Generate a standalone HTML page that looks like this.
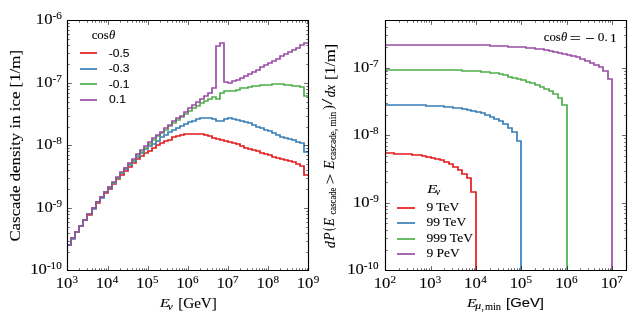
<!DOCTYPE html>
<html><head><meta charset="utf-8"><style>
html,body{margin:0;padding:0;background:#fff;}
body{width:640px;height:320px;overflow:hidden;}
svg{display:block;will-change:transform;}
</style></head><body>
<svg width="640" height="320" viewBox="0 0 640 320">
<rect width="640" height="320" fill="#fff"/>
<defs>
<clipPath id="cl"><rect x="67.4" y="20.4" width="240.99999999999997" height="249.99999999999997"/></clipPath>
<clipPath id="cr"><rect x="385.2" y="20.4" width="241.00000000000006" height="249.99999999999997"/></clipPath>
</defs>
<g clip-path="url(#cl)" fill="none" stroke-width="1.7" stroke-linejoin="miter" stroke-linecap="butt">
<path d="M64.40,245.00 H71.00 V238.00 H75.00 V232.00 H79.00 V226.00 H83.00 V220.00 H87.00 V215.00 H92.00 V208.00 H96.00 V203.00 H100.00 V197.00 H104.00 V193.00 H108.00 V189.00 H112.00 V184.00 H116.00 V179.00 H120.00 V175.00 H124.00 V171.00 H128.00 V167.00 H132.00 V163.00 H136.00 V159.00 H140.00 V156.00 H144.00 V153.00 H148.00 V151.00 H152.00 V148.00 H156.00 V145.00 H160.00 V143.00 H164.00 V141.00 H168.00 V140.00 H172.00 V137.00 H176.00 V136.00 H180.00 V135.00 H184.00 V134.00 H188.00 V134.00 H192.00 V134.00 H196.00 V134.00 H200.00 V134.00 H204.00 V135.00 H208.00 V136.00 H212.00 V138.00 H216.00 V139.00 H220.00 V140.00 H224.00 V141.00 H228.00 V142.00 H232.00 V143.00 H236.00 V144.00 H240.00 V146.00 H244.00 V148.00 H248.00 V149.00 H252.00 V150.00 H256.00 V151.00 H260.00 V153.00 H264.00 V154.00 H268.00 V155.00 H272.00 V157.00 H276.00 V158.00 H280.00 V159.00 H284.00 V160.00 H288.00 V161.00 H292.00 V162.00 H296.00 V164.00 H300.00 V166.00 H304.00 V175.00 H311.40" stroke="#e41a1c"/>
<path d="M64.40,245.00 H71.00 V239.00 H75.00 V232.00 H79.00 V226.00 H83.00 V220.00 H87.00 V214.00 H92.00 V209.00 H96.00 V202.00 H100.00 V198.00 H104.00 V192.00 H108.00 V188.00 H112.00 V183.00 H116.00 V178.00 H120.00 V173.00 H124.00 V169.00 H128.00 V165.00 H132.00 V161.00 H136.00 V157.00 H140.00 V153.00 H144.00 V149.00 H148.00 V146.00 H152.00 V144.00 H156.00 V141.00 H160.00 V137.00 H164.00 V135.00 H168.00 V132.00 H172.00 V130.00 H176.00 V128.00 H180.00 V126.00 H184.00 V124.00 H188.00 V122.00 H192.00 V121.00 H196.00 V119.00 H200.00 V118.00 H204.00 V118.00 H208.00 V118.00 H212.00 V119.00 H216.00 V121.00 H220.00 V121.00 H224.00 V119.00 H228.00 V118.00 H232.00 V119.00 H236.00 V120.00 H240.00 V121.00 H244.00 V122.00 H248.00 V123.00 H252.00 V125.00 H256.00 V127.00 H260.00 V128.00 H264.00 V130.00 H268.00 V131.00 H272.00 V133.00 H276.00 V135.00 H280.00 V137.00 H284.00 V138.00 H288.00 V139.00 H292.00 V140.00 H296.00 V142.00 H300.00 V143.00 H304.00 V152.00 H311.40" stroke="#377eb8"/>
<path d="M64.40,245.00 H71.00 V238.00 H75.00 V232.00 H79.00 V226.00 H83.00 V220.00 H87.00 V214.00 H92.00 V208.00 H96.00 V202.00 H100.00 V197.00 H104.00 V192.00 H108.00 V187.00 H112.00 V183.00 H116.00 V178.00 H120.00 V173.00 H124.00 V168.00 H128.00 V164.00 H132.00 V160.00 H136.00 V155.00 H140.00 V152.00 H144.00 V148.00 H148.00 V144.00 H152.00 V140.00 H156.00 V136.00 H160.00 V133.00 H164.00 V130.00 H168.00 V126.00 H172.00 V123.00 H176.00 V120.00 H180.00 V117.00 H184.00 V114.00 H188.00 V111.00 H192.00 V108.00 H196.00 V106.00 H200.00 V103.00 H204.00 V101.00 H208.00 V99.00 H212.00 V97.00 H216.00 V99.00 H220.00 V93.00 H224.00 V91.00 H228.00 V91.00 H232.00 V91.00 H236.00 V90.00 H240.00 V88.00 H244.00 V88.00 H248.00 V87.00 H252.00 V86.00 H256.00 V86.00 H260.00 V85.00 H264.00 V85.00 H268.00 V85.00 H272.00 V84.00 H276.00 V84.00 H280.00 V84.00 H284.00 V85.00 H288.00 V85.00 H292.00 V86.00 H296.00 V86.00 H300.00 V87.00 H304.00 V96.00 H311.40" stroke="#4daf4a"/>
<path d="M64.40,245.00 H71.00 V238.00 H75.00 V232.00 H79.00 V226.00 H83.00 V220.00 H87.00 V214.00 H92.00 V208.00 H96.00 V202.00 H100.00 V197.00 H104.00 V192.00 H108.00 V187.00 H112.00 V182.00 H116.00 V177.00 H120.00 V172.00 H124.00 V168.00 H128.00 V163.00 H132.00 V159.00 H136.00 V154.00 H140.00 V150.00 H144.00 V146.00 H148.00 V142.00 H152.00 V138.00 H156.00 V135.00 H160.00 V132.00 H164.00 V128.00 H168.00 V125.00 H172.00 V121.00 H176.00 V118.00 H180.00 V116.00 H184.00 V112.00 H188.00 V108.00 H192.00 V105.00 H196.00 V102.00 H200.00 V99.00 H204.00 V96.00 H208.00 V93.00 H212.00 V88.00 H216.00 V46.00 H220.00 V43.00 H224.00 V82.00 H228.00 V83.00 H232.00 V81.00 H236.00 V80.00 H240.00 V78.00 H244.00 V76.00 H248.00 V74.00 H252.00 V72.00 H256.00 V70.00 H260.00 V67.00 H264.00 V65.00 H268.00 V63.00 H272.00 V61.00 H276.00 V59.00 H280.00 V56.00 H284.00 V54.00 H288.00 V52.00 H292.00 V50.00 H296.00 V48.00 H300.00 V45.00 H304.00 V43.00 H311.40" stroke="#984ea3"/>
</g>
<g clip-path="url(#cr)" fill="none" stroke-width="1.7" stroke-linejoin="miter" stroke-linecap="butt">
<path d="M382.20,153.00 H390.00 V153.00 H394.00 V154.00 H399.00 V154.00 H403.00 V154.00 H408.00 V154.00 H412.00 V155.00 H417.00 V155.00 H422.00 V156.00 H426.00 V157.00 H431.00 V158.00 H435.00 V159.00 H440.00 V160.00 H444.00 V162.00 H449.00 V164.00 H453.00 V167.00 H458.00 V170.00 H462.00 V174.00 H467.00 V178.00 H471.00 V192.00 H476.00 V275.40" stroke="#e41a1c"/>
<path d="M382.20,105.00 H390.00 V105.00 H394.00 V105.00 H399.00 V105.00 H403.00 V105.00 H408.00 V105.00 H412.00 V105.00 H417.00 V105.00 H422.00 V105.00 H426.00 V106.00 H431.00 V106.00 H435.00 V106.00 H440.00 V106.00 H444.00 V107.00 H449.00 V107.00 H453.00 V108.00 H458.00 V108.00 H462.00 V109.00 H467.00 V110.00 H471.00 V111.00 H476.00 V112.00 H481.00 V113.00 H485.00 V115.00 H490.00 V117.00 H494.00 V119.00 H499.00 V121.00 H503.00 V124.00 H508.00 V128.00 H512.00 V132.00 H517.00 V141.00 H521.00 V275.40" stroke="#377eb8"/>
<path d="M382.20,70.00 H390.00 V70.00 H394.00 V70.00 H399.00 V70.00 H403.00 V70.00 H408.00 V70.00 H412.00 V70.00 H417.00 V70.00 H422.00 V70.00 H426.00 V70.00 H431.00 V70.00 H435.00 V70.00 H440.00 V70.00 H444.00 V70.00 H449.00 V70.00 H453.00 V70.00 H458.00 V70.00 H462.00 V71.00 H467.00 V71.00 H471.00 V71.00 H476.00 V71.00 H481.00 V72.00 H485.00 V72.00 H490.00 V73.00 H494.00 V73.00 H499.00 V74.00 H503.00 V75.00 H508.00 V77.00 H512.00 V78.00 H517.00 V79.00 H521.00 V80.00 H526.00 V82.00 H530.00 V83.00 H535.00 V85.00 H540.00 V87.00 H544.00 V89.00 H549.00 V91.00 H553.00 V94.00 H558.00 V98.00 H562.00 V105.00 H567.00 V275.40" stroke="#4daf4a"/>
<path d="M382.20,45.00 H390.00 V45.00 H394.00 V45.00 H399.00 V45.00 H403.00 V45.00 H408.00 V45.00 H412.00 V45.00 H417.00 V45.00 H422.00 V45.00 H426.00 V45.00 H431.00 V45.00 H435.00 V45.00 H440.00 V45.00 H444.00 V45.00 H449.00 V45.00 H453.00 V45.00 H458.00 V45.00 H462.00 V45.00 H467.00 V45.00 H471.00 V45.00 H476.00 V45.00 H481.00 V45.00 H485.00 V45.00 H490.00 V46.00 H494.00 V46.00 H499.00 V46.00 H503.00 V46.00 H508.00 V47.00 H512.00 V47.00 H517.00 V47.00 H521.00 V47.00 H526.00 V48.00 H530.00 V48.00 H535.00 V49.00 H540.00 V49.00 H544.00 V50.00 H549.00 V51.00 H553.00 V52.00 H558.00 V53.00 H562.00 V54.00 H567.00 V55.00 H571.00 V56.00 H576.00 V57.00 H580.00 V59.00 H585.00 V61.00 H590.00 V63.00 H594.00 V65.00 H599.00 V67.00 H603.00 V71.00 H608.00 V79.00 H612.00 V275.40" stroke="#984ea3"/>
</g>
<g fill="none" stroke="#000">
<path d="M79.50,270.50V268.30 M79.50,20.50V22.70 M87.50,270.50V268.30 M87.50,20.50V22.70 M92.50,270.50V268.30 M92.50,20.50V22.70 M95.50,270.50V268.30 M95.50,20.50V22.70 M99.50,270.50V268.30 M99.50,20.50V22.70 M101.50,270.50V268.30 M101.50,20.50V22.70 M104.50,270.50V268.30 M104.50,20.50V22.70 M106.50,270.50V268.30 M106.50,20.50V22.70 M120.50,270.50V268.30 M120.50,20.50V22.70 M127.50,270.50V268.30 M127.50,20.50V22.70 M132.50,270.50V268.30 M132.50,20.50V22.70 M136.50,270.50V268.30 M136.50,20.50V22.70 M139.50,270.50V268.30 M139.50,20.50V22.70 M142.50,270.50V268.30 M142.50,20.50V22.70 M144.50,270.50V268.30 M144.50,20.50V22.70 M146.50,270.50V268.30 M146.50,20.50V22.70 M160.50,270.50V268.30 M160.50,20.50V22.70 M167.50,270.50V268.30 M167.50,20.50V22.70 M172.50,270.50V268.30 M172.50,20.50V22.70 M176.50,270.50V268.30 M176.50,20.50V22.70 M179.50,270.50V268.30 M179.50,20.50V22.70 M182.50,270.50V268.30 M182.50,20.50V22.70 M184.50,270.50V268.30 M184.50,20.50V22.70 M186.50,270.50V268.30 M186.50,20.50V22.70 M200.50,270.50V268.30 M200.50,20.50V22.70 M207.50,270.50V268.30 M207.50,20.50V22.70 M212.50,270.50V268.30 M212.50,20.50V22.70 M216.50,270.50V268.30 M216.50,20.50V22.70 M219.50,270.50V268.30 M219.50,20.50V22.70 M222.50,270.50V268.30 M222.50,20.50V22.70 M224.50,270.50V268.30 M224.50,20.50V22.70 M226.50,270.50V268.30 M226.50,20.50V22.70 M240.50,270.50V268.30 M240.50,20.50V22.70 M247.50,270.50V268.30 M247.50,20.50V22.70 M252.50,270.50V268.30 M252.50,20.50V22.70 M256.50,270.50V268.30 M256.50,20.50V22.70 M259.50,270.50V268.30 M259.50,20.50V22.70 M262.50,270.50V268.30 M262.50,20.50V22.70 M264.50,270.50V268.30 M264.50,20.50V22.70 M266.50,270.50V268.30 M266.50,20.50V22.70 M280.50,270.50V268.30 M280.50,20.50V22.70 M287.50,270.50V268.30 M287.50,20.50V22.70 M292.50,270.50V268.30 M292.50,20.50V22.70 M296.50,270.50V268.30 M296.50,20.50V22.70 M299.50,270.50V268.30 M299.50,20.50V22.70 M302.50,270.50V268.30 M302.50,20.50V22.70 M305.50,270.50V268.30 M305.50,20.50V22.70 M307.50,270.50V268.30 M307.50,20.50V22.70 M67.50,252.50H69.70 M308.50,252.50H306.30 M67.50,241.50H69.70 M308.50,241.50H306.30 M67.50,233.50H69.70 M308.50,233.50H306.30 M67.50,227.50H69.70 M308.50,227.50H306.30 M67.50,222.50H69.70 M308.50,222.50H306.30 M67.50,218.50H69.70 M308.50,218.50H306.30 M67.50,214.50H69.70 M308.50,214.50H306.30 M67.50,211.50H69.70 M308.50,211.50H306.30 M67.50,189.50H69.70 M308.50,189.50H306.30 M67.50,178.50H69.70 M308.50,178.50H306.30 M67.50,170.50H69.70 M308.50,170.50H306.30 M67.50,164.50H69.70 M308.50,164.50H306.30 M67.50,159.50H69.70 M308.50,159.50H306.30 M67.50,155.50H69.70 M308.50,155.50H306.30 M67.50,151.50H69.70 M308.50,151.50H306.30 M67.50,148.50H69.70 M308.50,148.50H306.30 M67.50,127.50H69.70 M308.50,127.50H306.30 M67.50,116.50H69.70 M308.50,116.50H306.30 M67.50,108.50H69.70 M308.50,108.50H306.30 M67.50,102.50H69.70 M308.50,102.50H306.30 M67.50,97.50H69.70 M308.50,97.50H306.30 M67.50,93.50H69.70 M308.50,93.50H306.30 M67.50,89.50H69.70 M308.50,89.50H306.30 M67.50,86.50H69.70 M308.50,86.50H306.30 M67.50,64.50H69.70 M308.50,64.50H306.30 M67.50,53.50H69.70 M308.50,53.50H306.30 M67.50,45.50H69.70 M308.50,45.50H306.30 M67.50,39.50H69.70 M308.50,39.50H306.30 M67.50,34.50H69.70 M308.50,34.50H306.30 M67.50,30.50H69.70 M308.50,30.50H306.30 M67.50,26.50H69.70 M308.50,26.50H306.30 M67.50,23.50H69.70 M308.50,23.50H306.30 M399.50,270.50V268.30 M399.50,20.50V22.70 M407.50,270.50V268.30 M407.50,20.50V22.70 M413.50,270.50V268.30 M413.50,20.50V22.70 M417.50,270.50V268.30 M417.50,20.50V22.70 M421.50,270.50V268.30 M421.50,20.50V22.70 M424.50,270.50V268.30 M424.50,20.50V22.70 M426.50,270.50V268.30 M426.50,20.50V22.70 M429.50,270.50V268.30 M429.50,20.50V22.70 M444.50,270.50V268.30 M444.50,20.50V22.70 M452.50,270.50V268.30 M452.50,20.50V22.70 M458.50,270.50V268.30 M458.50,20.50V22.70 M462.50,270.50V268.30 M462.50,20.50V22.70 M466.50,270.50V268.30 M466.50,20.50V22.70 M469.50,270.50V268.30 M469.50,20.50V22.70 M472.50,270.50V268.30 M472.50,20.50V22.70 M474.50,270.50V268.30 M474.50,20.50V22.70 M490.50,270.50V268.30 M490.50,20.50V22.70 M498.50,270.50V268.30 M498.50,20.50V22.70 M503.50,270.50V268.30 M503.50,20.50V22.70 M508.50,270.50V268.30 M508.50,20.50V22.70 M511.50,270.50V268.30 M511.50,20.50V22.70 M514.50,270.50V268.30 M514.50,20.50V22.70 M517.50,270.50V268.30 M517.50,20.50V22.70 M519.50,270.50V268.30 M519.50,20.50V22.70 M535.50,270.50V268.30 M535.50,20.50V22.70 M543.50,270.50V268.30 M543.50,20.50V22.70 M549.50,270.50V268.30 M549.50,20.50V22.70 M553.50,270.50V268.30 M553.50,20.50V22.70 M557.50,270.50V268.30 M557.50,20.50V22.70 M560.50,270.50V268.30 M560.50,20.50V22.70 M562.50,270.50V268.30 M562.50,20.50V22.70 M565.50,270.50V268.30 M565.50,20.50V22.70 M580.50,270.50V268.30 M580.50,20.50V22.70 M588.50,270.50V268.30 M588.50,20.50V22.70 M594.50,270.50V268.30 M594.50,20.50V22.70 M599.50,270.50V268.30 M599.50,20.50V22.70 M602.50,270.50V268.30 M602.50,20.50V22.70 M605.50,270.50V268.30 M605.50,20.50V22.70 M608.50,270.50V268.30 M608.50,20.50V22.70 M610.50,270.50V268.30 M610.50,20.50V22.70 M385.50,250.50H387.70 M626.50,250.50H624.30 M385.50,238.50H387.70 M626.50,238.50H624.30 M385.50,230.50H387.70 M626.50,230.50H624.30 M385.50,223.50H387.70 M626.50,223.50H624.30 M385.50,218.50H387.70 M626.50,218.50H624.30 M385.50,213.50H387.70 M626.50,213.50H624.30 M385.50,209.50H387.70 M626.50,209.50H624.30 M385.50,206.50H387.70 M626.50,206.50H624.30 M385.50,182.50H387.70 M626.50,182.50H624.30 M385.50,171.50H387.70 M626.50,171.50H624.30 M385.50,162.50H387.70 M626.50,162.50H624.30 M385.50,156.50H387.70 M626.50,156.50H624.30 M385.50,150.50H387.70 M626.50,150.50H624.30 M385.50,146.50H387.70 M626.50,146.50H624.30 M385.50,142.50H387.70 M626.50,142.50H624.30 M385.50,138.50H387.70 M626.50,138.50H624.30 M385.50,115.50H387.70 M626.50,115.50H624.30 M385.50,103.50H387.70 M626.50,103.50H624.30 M385.50,95.50H387.70 M626.50,95.50H624.30 M385.50,88.50H387.70 M626.50,88.50H624.30 M385.50,83.50H387.70 M626.50,83.50H624.30 M385.50,78.50H387.70 M626.50,78.50H624.30 M385.50,74.50H387.70 M626.50,74.50H624.30 M385.50,71.50H387.70 M626.50,71.50H624.30 M385.50,47.50H387.70 M626.50,47.50H624.30 M385.50,35.50H387.70 M626.50,35.50H624.30 M385.50,27.50H387.70 M626.50,27.50H624.30" stroke-width="0.6"/>
<path d="M67.50,270.50V266.10 M67.50,20.50V24.90 M108.50,270.50V266.10 M108.50,20.50V24.90 M148.50,270.50V266.10 M148.50,20.50V24.90 M188.50,270.50V266.10 M188.50,20.50V24.90 M228.50,270.50V266.10 M228.50,20.50V24.90 M268.50,270.50V266.10 M268.50,20.50V24.90 M308.50,270.50V266.10 M308.50,20.50V24.90 M67.50,270.50H71.90 M308.50,270.50H304.10 M67.50,208.50H71.90 M308.50,208.50H304.10 M67.50,145.50H71.90 M308.50,145.50H304.10 M67.50,83.50H71.90 M308.50,83.50H304.10 M67.50,20.50H71.90 M308.50,20.50H304.10 M385.50,270.50V266.10 M385.50,20.50V24.90 M431.50,270.50V266.10 M431.50,20.50V24.90 M476.50,270.50V266.10 M476.50,20.50V24.90 M521.50,270.50V266.10 M521.50,20.50V24.90 M567.50,270.50V266.10 M567.50,20.50V24.90 M612.50,270.50V266.10 M612.50,20.50V24.90 M385.50,270.50H389.90 M626.50,270.50H622.10 M385.50,203.50H389.90 M626.50,203.50H622.10 M385.50,135.50H389.90 M626.50,135.50H622.10 M385.50,68.50H389.90 M626.50,68.50H622.10" stroke-width="0.6"/>
<path d="M67.5,20.5H308.5V270.5H67.5Z M385.5,20.5H626.5V270.5H385.5Z" stroke-width="1.15" stroke-linecap="square"/>
</g>
<g fill="#000" stroke="#000" stroke-width="0.1">
<g transform="translate(55.75,287.95) scale(1.0889,1.0000)"><text x="0" y="0" font-family="&apos;Liberation Serif&apos;, serif" font-size="15.3" font-style="normal" font-weight="normal">10</text></g>
<g transform="translate(72.59,282.65) scale(1.0600,1.0000)"><text x="0" y="0" font-family="&apos;Liberation Serif&apos;, serif" font-size="10.5" font-style="normal" font-weight="normal">3</text></g>
<g transform="translate(95.66,287.95) scale(1.0889,1.0000)"><text x="0" y="0" font-family="&apos;Liberation Serif&apos;, serif" font-size="15.3" font-style="normal" font-weight="normal">10</text></g>
<g transform="translate(112.75,282.90) scale(1.0600,1.0000)"><text x="0" y="0" font-family="&apos;Liberation Serif&apos;, serif" font-size="10.5" font-style="normal" font-weight="normal">4</text></g>
<g transform="translate(136.09,287.95) scale(1.0889,1.0000)"><text x="0" y="0" font-family="&apos;Liberation Serif&apos;, serif" font-size="15.3" font-style="normal" font-weight="normal">10</text></g>
<g transform="translate(152.92,282.65) scale(1.0600,1.0000)"><text x="0" y="0" font-family="&apos;Liberation Serif&apos;, serif" font-size="10.5" font-style="normal" font-weight="normal">5</text></g>
<g transform="translate(176.25,287.95) scale(1.0889,1.0000)"><text x="0" y="0" font-family="&apos;Liberation Serif&apos;, serif" font-size="15.3" font-style="normal" font-weight="normal">10</text></g>
<g transform="translate(193.09,282.65) scale(1.0600,1.0000)"><text x="0" y="0" font-family="&apos;Liberation Serif&apos;, serif" font-size="10.5" font-style="normal" font-weight="normal">6</text></g>
<g transform="translate(216.55,287.95) scale(1.0889,1.0000)"><text x="0" y="0" font-family="&apos;Liberation Serif&apos;, serif" font-size="15.3" font-style="normal" font-weight="normal">10</text></g>
<g transform="translate(233.12,282.90) scale(1.0600,1.0000)"><text x="0" y="0" font-family="&apos;Liberation Serif&apos;, serif" font-size="10.5" font-style="normal" font-weight="normal">7</text></g>
<g transform="translate(256.59,287.95) scale(1.0889,1.0000)"><text x="0" y="0" font-family="&apos;Liberation Serif&apos;, serif" font-size="15.3" font-style="normal" font-weight="normal">10</text></g>
<g transform="translate(273.42,282.65) scale(1.0600,1.0000)"><text x="0" y="0" font-family="&apos;Liberation Serif&apos;, serif" font-size="10.5" font-style="normal" font-weight="normal">8</text></g>
<g transform="translate(296.75,287.95) scale(1.0889,1.0000)"><text x="0" y="0" font-family="&apos;Liberation Serif&apos;, serif" font-size="15.3" font-style="normal" font-weight="normal">10</text></g>
<g transform="translate(313.85,282.65) scale(1.0600,1.0000)"><text x="0" y="0" font-family="&apos;Liberation Serif&apos;, serif" font-size="10.5" font-style="normal" font-weight="normal">9</text></g>
<g transform="translate(373.69,287.95) scale(1.0889,1.0000)"><text x="0" y="0" font-family="&apos;Liberation Serif&apos;, serif" font-size="15.3" font-style="normal" font-weight="normal">10</text></g>
<g transform="translate(390.52,282.90) scale(1.0600,1.0000)"><text x="0" y="0" font-family="&apos;Liberation Serif&apos;, serif" font-size="10.5" font-style="normal" font-weight="normal">2</text></g>
<g transform="translate(418.95,287.95) scale(1.0889,1.0000)"><text x="0" y="0" font-family="&apos;Liberation Serif&apos;, serif" font-size="15.3" font-style="normal" font-weight="normal">10</text></g>
<g transform="translate(435.79,282.65) scale(1.0600,1.0000)"><text x="0" y="0" font-family="&apos;Liberation Serif&apos;, serif" font-size="10.5" font-style="normal" font-weight="normal">3</text></g>
<g transform="translate(464.09,287.95) scale(1.0889,1.0000)"><text x="0" y="0" font-family="&apos;Liberation Serif&apos;, serif" font-size="15.3" font-style="normal" font-weight="normal">10</text></g>
<g transform="translate(481.19,282.90) scale(1.0600,1.0000)"><text x="0" y="0" font-family="&apos;Liberation Serif&apos;, serif" font-size="10.5" font-style="normal" font-weight="normal">4</text></g>
<g transform="translate(509.75,287.95) scale(1.0889,1.0000)"><text x="0" y="0" font-family="&apos;Liberation Serif&apos;, serif" font-size="15.3" font-style="normal" font-weight="normal">10</text></g>
<g transform="translate(526.59,282.65) scale(1.0600,1.0000)"><text x="0" y="0" font-family="&apos;Liberation Serif&apos;, serif" font-size="10.5" font-style="normal" font-weight="normal">5</text></g>
<g transform="translate(555.15,287.95) scale(1.0889,1.0000)"><text x="0" y="0" font-family="&apos;Liberation Serif&apos;, serif" font-size="15.3" font-style="normal" font-weight="normal">10</text></g>
<g transform="translate(571.99,282.65) scale(1.0600,1.0000)"><text x="0" y="0" font-family="&apos;Liberation Serif&apos;, serif" font-size="10.5" font-style="normal" font-weight="normal">6</text></g>
<g transform="translate(600.69,287.95) scale(1.0889,1.0000)"><text x="0" y="0" font-family="&apos;Liberation Serif&apos;, serif" font-size="15.3" font-style="normal" font-weight="normal">10</text></g>
<g transform="translate(617.25,282.90) scale(1.0600,1.0000)"><text x="0" y="0" font-family="&apos;Liberation Serif&apos;, serif" font-size="10.5" font-style="normal" font-weight="normal">7</text></g>
<g transform="translate(46.92,269.30) scale(1.0600,1.0000)"><text x="0" y="0" font-family="&apos;Liberation Serif&apos;, serif" font-size="10.5" font-style="normal" font-weight="normal">-10</text></g>
<g transform="translate(30.29,274.40) scale(1.0889,1.0000)"><text x="0" y="0" font-family="&apos;Liberation Serif&apos;, serif" font-size="15.3" font-style="normal" font-weight="normal">10</text></g>
<g transform="translate(52.75,206.80) scale(1.0600,1.0000)"><text x="0" y="0" font-family="&apos;Liberation Serif&apos;, serif" font-size="10.5" font-style="normal" font-weight="normal">-9</text></g>
<g transform="translate(36.12,211.90) scale(1.0889,1.0000)"><text x="0" y="0" font-family="&apos;Liberation Serif&apos;, serif" font-size="15.3" font-style="normal" font-weight="normal">10</text></g>
<g transform="translate(52.49,144.30) scale(1.0600,1.0000)"><text x="0" y="0" font-family="&apos;Liberation Serif&apos;, serif" font-size="10.5" font-style="normal" font-weight="normal">-8</text></g>
<g transform="translate(35.86,149.40) scale(1.0889,1.0000)"><text x="0" y="0" font-family="&apos;Liberation Serif&apos;, serif" font-size="15.3" font-style="normal" font-weight="normal">10</text></g>
<g transform="translate(52.49,82.05) scale(1.0600,1.0000)"><text x="0" y="0" font-family="&apos;Liberation Serif&apos;, serif" font-size="10.5" font-style="normal" font-weight="normal">-7</text></g>
<g transform="translate(35.86,86.90) scale(1.0889,1.0000)"><text x="0" y="0" font-family="&apos;Liberation Serif&apos;, serif" font-size="15.3" font-style="normal" font-weight="normal">10</text></g>
<g transform="translate(52.49,19.30) scale(1.0600,1.0000)"><text x="0" y="0" font-family="&apos;Liberation Serif&apos;, serif" font-size="10.5" font-style="normal" font-weight="normal">-6</text></g>
<g transform="translate(35.86,24.40) scale(1.0889,1.0000)"><text x="0" y="0" font-family="&apos;Liberation Serif&apos;, serif" font-size="15.3" font-style="normal" font-weight="normal">10</text></g>
<g transform="translate(363.82,269.30) scale(1.0600,1.0000)"><text x="0" y="0" font-family="&apos;Liberation Serif&apos;, serif" font-size="10.5" font-style="normal" font-weight="normal">-10</text></g>
<g transform="translate(347.19,274.40) scale(1.0889,1.0000)"><text x="0" y="0" font-family="&apos;Liberation Serif&apos;, serif" font-size="15.3" font-style="normal" font-weight="normal">10</text></g>
<g transform="translate(369.65,201.71) scale(1.0600,1.0000)"><text x="0" y="0" font-family="&apos;Liberation Serif&apos;, serif" font-size="10.5" font-style="normal" font-weight="normal">-9</text></g>
<g transform="translate(353.02,206.81) scale(1.0889,1.0000)"><text x="0" y="0" font-family="&apos;Liberation Serif&apos;, serif" font-size="15.3" font-style="normal" font-weight="normal">10</text></g>
<g transform="translate(369.39,134.13) scale(1.0600,1.0000)"><text x="0" y="0" font-family="&apos;Liberation Serif&apos;, serif" font-size="10.5" font-style="normal" font-weight="normal">-8</text></g>
<g transform="translate(352.76,139.23) scale(1.0889,1.0000)"><text x="0" y="0" font-family="&apos;Liberation Serif&apos;, serif" font-size="15.3" font-style="normal" font-weight="normal">10</text></g>
<g transform="translate(369.39,66.79) scale(1.0600,1.0000)"><text x="0" y="0" font-family="&apos;Liberation Serif&apos;, serif" font-size="10.5" font-style="normal" font-weight="normal">-7</text></g>
<g transform="translate(352.76,71.64) scale(1.0889,1.0000)"><text x="0" y="0" font-family="&apos;Liberation Serif&apos;, serif" font-size="15.3" font-style="normal" font-weight="normal">10</text></g>
<g transform="translate(91.67,39.30) scale(1.0506,1.0000)"><text x="0" y="0" font-family="&apos;Liberation Serif&apos;" font-size="12.2">cos<tspan font-style="italic" dx="0.3">θ</tspan></text></g>
<g transform="translate(108.66,56.60) scale(1.0900,1.0000)"><text x="0" y="0" font-family="&apos;Liberation Sans&apos;, sans-serif" font-size="11.1" font-style="normal" font-weight="normal">-0.5</text></g>
<g transform="translate(108.66,72.22) scale(1.0900,1.0000)"><text x="0" y="0" font-family="&apos;Liberation Sans&apos;, sans-serif" font-size="11.1" font-style="normal" font-weight="normal">-0.3</text></g>
<g transform="translate(108.66,87.84) scale(1.0900,1.0000)"><text x="0" y="0" font-family="&apos;Liberation Sans&apos;, sans-serif" font-size="11.1" font-style="normal" font-weight="normal">-0.1</text></g>
<g transform="translate(109.06,103.46) scale(1.0900,1.0000)"><text x="0" y="0" font-family="&apos;Liberation Sans&apos;, sans-serif" font-size="11.1" font-style="normal" font-weight="normal">0.1</text></g>
<g transform="translate(427.26,192.90) scale(1.2438,1.0000)"><text x="0" y="0" font-family="&apos;Liberation Serif&apos;, serif" font-size="13.2" font-style="italic" font-weight="normal">E</text></g>
<g transform="translate(435.62,194.55) scale(1.1000,1.0000)"><text x="0" y="0" font-family="&apos;Liberation Serif&apos;, serif" font-size="9.5" font-style="italic" font-weight="normal">ν</text></g>
<g transform="translate(426.39,210.55) scale(1.1200,1.0000)"><text x="0" y="0" font-family="&apos;Liberation Serif&apos;, serif" font-size="12.1" font-style="normal" font-weight="normal">9 TeV</text></g>
<g transform="translate(426.39,226.05) scale(1.1200,1.0000)"><text x="0" y="0" font-family="&apos;Liberation Serif&apos;, serif" font-size="12.1" font-style="normal" font-weight="normal">99 TeV</text></g>
<g transform="translate(426.39,241.55) scale(1.1200,1.0000)"><text x="0" y="0" font-family="&apos;Liberation Serif&apos;, serif" font-size="12.1" font-style="normal" font-weight="normal">999 TeV</text></g>
<g transform="translate(426.39,257.05) scale(1.1200,1.0000)"><text x="0" y="0" font-family="&apos;Liberation Serif&apos;, serif" font-size="12.1" font-style="normal" font-weight="normal">9 PeV</text></g>
<g transform="translate(543.78,41.30) scale(1.0437,1.0000)"><text x="0" y="0" font-family="&apos;Liberation Serif&apos;" font-size="12.2">cos<tspan font-style="italic" dx="0.3">θ</tspan></text></g>
<g transform="translate(569.72,42.75) scale(1.4400,1.0000)"><text x="0" y="0" font-family="&apos;Liberation Serif&apos;, serif" font-size="13.6" font-style="normal" font-weight="normal">=</text></g>
<g transform="translate(585.16,43.05) scale(1.2480,1.0000)"><text x="0" y="0" font-family="&apos;Liberation Serif&apos;, serif" font-size="13.6" font-style="normal" font-weight="normal">−</text></g>
<g transform="translate(597.78,41.30) scale(1.0500,1.0000)"><text x="0" y="0" font-family="&apos;Liberation Serif&apos;, serif" font-size="12.7" font-style="normal" font-weight="normal">0.</text></g>
<g transform="translate(609.92,41.55) scale(1.0500,1.0000)"><text x="0" y="0" font-family="&apos;Liberation Serif&apos;, serif" font-size="12.7" font-style="normal" font-weight="normal">1</text></g>
<g transform="translate(159.91,307.40) scale(1.2387,1.0000)"><text x="0" y="0" font-family="&apos;Liberation Serif&apos;, serif" font-size="12.8" font-style="italic" font-weight="normal">E</text></g>
<g transform="translate(178.16,307.60) scale(1.0383,1.0000)"><text x="0" y="0" font-family="&apos;Liberation Serif&apos;, serif" font-size="14.6" font-style="normal" font-weight="normal">[GeV]</text></g>
<g transform="translate(466.91,307.40) scale(1.2387,1.0000)"><text x="0" y="0" font-family="&apos;Liberation Serif&apos;, serif" font-size="12.8" font-style="italic" font-weight="normal">E</text></g>
<g transform="translate(506.06,306.65) scale(1.1392,1.0000)"><text x="0" y="0" font-family="&apos;Liberation Sans&apos;, sans-serif" font-size="13.0" font-style="normal" font-weight="normal">[GeV]</text></g>
<g transform="translate(167.71,309.60) scale(1.1529,1.0000)"><text x="0" y="0" font-family="&apos;Liberation Serif&apos;, serif" font-size="9.8" font-style="italic" font-weight="normal">ν</text></g>
<g transform="translate(475.20,309.05) scale(1.1889,1.0000)"><text x="0" y="0" font-family="&apos;Liberation Serif&apos;, serif" font-size="9.8" font-style="italic" font-weight="normal">μ</text></g>
<g transform="translate(481.45,309.80) scale(1.0000,1.0000)"><text x="0" y="0" font-family="&apos;Liberation Serif&apos;, serif" font-size="9.8" font-style="normal" font-weight="normal">,</text></g>
<g transform="translate(484.93,310.00) scale(1.0759,1.0000)"><text x="0" y="0" font-family="&apos;Liberation Serif&apos;, serif" font-size="9.6" font-style="normal" font-weight="normal">min</text></g>
<g transform="translate(19.80,241.61) rotate(-90) scale(1.1223,1.0000)"><text x="0" y="0" font-family="&apos;Liberation Serif&apos;, serif" font-size="15.0" font-style="normal" font-weight="normal">Cascade density in ice [1/m]</text></g>
<g transform="translate(334.85,248.07) rotate(-90) scale(0.9462,1.0000)"><text x="0" y="0" font-family="&apos;Liberation Serif&apos;, serif" font-size="14.0" font-style="italic" font-weight="normal">d</text></g>
<g transform="translate(334.35,240.50) rotate(-90) scale(0.9455,1.0000)"><text x="0" y="0" font-family="&apos;Liberation Serif&apos;, serif" font-size="14.0" font-style="italic" font-weight="normal">P</text></g>
<g transform="translate(333.00,230.41) rotate(-90) scale(0.6133,1.0000)"><text x="0" y="0" font-family="&apos;Liberation Serif&apos;, serif" font-size="14.0" font-style="normal" font-weight="normal">(</text></g>
<g transform="translate(334.35,226.07) rotate(-90) scale(0.9176,1.0000)"><text x="0" y="0" font-family="&apos;Liberation Serif&apos;, serif" font-size="14.0" font-style="italic" font-weight="normal">E</text></g>
<g transform="translate(335.70,214.53) rotate(-90) scale(0.9252,1.0000)"><text x="0" y="0" font-family="&apos;Liberation Serif&apos;, serif" font-size="9.4" font-style="normal" font-weight="normal">cascade</text></g>
<g transform="translate(334.95,184.58) rotate(-90) scale(1.3769,1.0000)"><text x="0" y="0" font-family="&apos;Liberation Serif&apos;, serif" font-size="14.0" font-style="normal" font-weight="normal">&gt;</text></g>
<g transform="translate(334.35,168.95) rotate(-90) scale(0.9882,1.0000)"><text x="0" y="0" font-family="&apos;Liberation Serif&apos;, serif" font-size="14.0" font-style="italic" font-weight="normal">E</text></g>
<g transform="translate(335.70,160.05) rotate(-90) scale(0.9938,1.0000)"><text x="0" y="0" font-family="&apos;Liberation Serif&apos;, serif" font-size="9.4" font-style="normal" font-weight="normal">cascade, min</text></g>
<g transform="translate(333.30,109.69) rotate(-90) scale(0.9714,1.0000)"><text x="0" y="0" font-family="&apos;Liberation Serif&apos;, serif" font-size="14.0" font-style="normal" font-weight="normal">)</text></g>
<g transform="translate(332.45,104.80) rotate(-90) scale(1.5600,1.0000)"><text x="0" y="0" font-family="&apos;Liberation Serif&apos;, serif" font-size="14.0" font-style="normal" font-weight="normal">/</text></g>
<g transform="translate(335.45,97.16) rotate(-90) scale(0.9200,1.0000)"><text x="0" y="0" font-family="&apos;Liberation Serif&apos;, serif" font-size="14.0" font-style="italic" font-weight="normal">dx</text></g>
<g transform="translate(334.60,79.94) rotate(-90) scale(1.1424,1.0000)"><text x="0" y="0" font-family="&apos;Liberation Serif&apos;, serif" font-size="14.2" font-style="normal" font-weight="normal">[1/m]</text></g>
</g>

<!-- left legend lines -->
<g stroke-width="1.7">
<path d="M80,53H97" stroke="#e41a1c"/>
<path d="M80,69H97" stroke="#377eb8"/>
<path d="M80,84H97" stroke="#4daf4a"/>
<path d="M80,100H97" stroke="#984ea3"/>
</g>
<!-- right legend lines -->
<g stroke-width="1.7">
<path d="M397,208H415" stroke="#e41a1c"/>
<path d="M397,223H415" stroke="#377eb8"/>
<path d="M397,239H415" stroke="#4daf4a"/>
<path d="M397,254H415" stroke="#984ea3"/>
</g>

</svg>
</body></html>
